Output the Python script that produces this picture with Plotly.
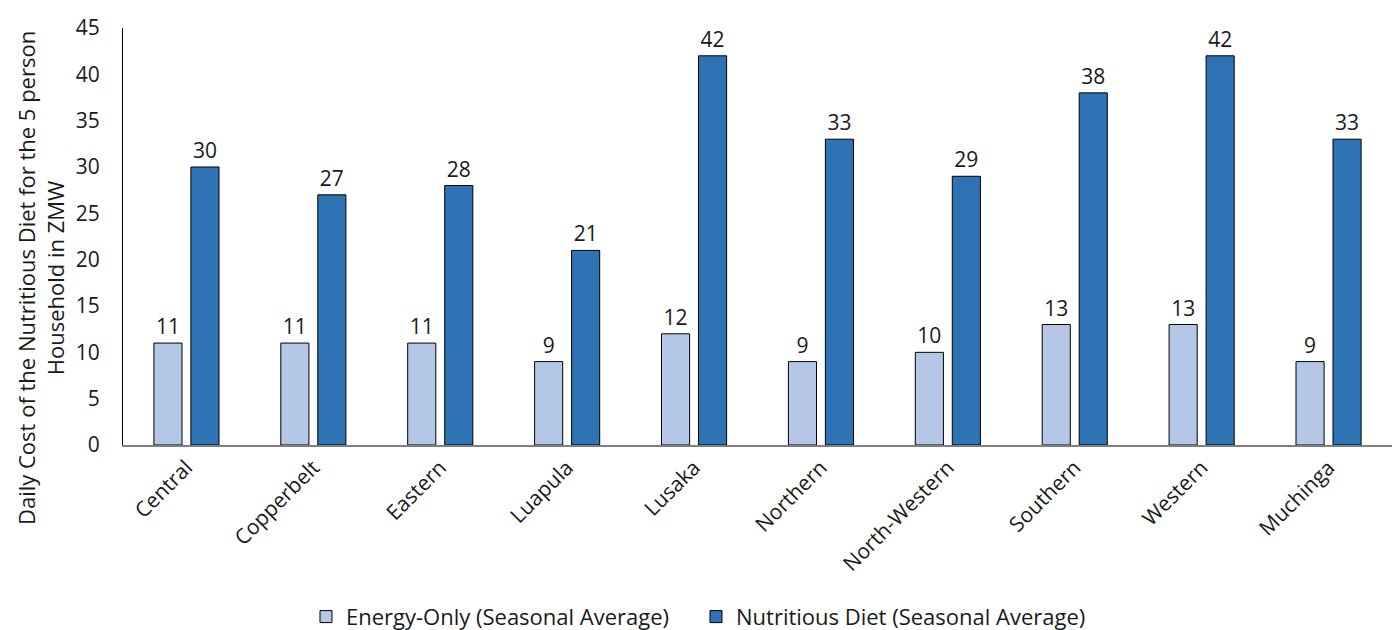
import plotly.graph_objects as go

regions = ["Central", "Copperbelt", "Eastern", "Luapula", "Lusaka", "Northern",
           "North-Western", "Southern", "Western", "Muchinga"]
energy_only = [11, 11, 11, 9, 12, 9, 10, 13, 13, 9]
nutritious = [30, 27, 28, 21, 42, 33, 29, 38, 42, 33]
y_ticks = [0, 5, 10, 15, 20, 25, 30, 35, 40, 45]
y_title = "Daily Cost of the Nutritious Diet for the 5 person<br>Household in ZMW"

font_family = "Open Sans, Noto Sans, sans-serif"
txt = "#1a1a1a"

fig = go.Figure()
fig.add_trace(go.Bar(
    x=regions, y=energy_only, name="Energy-Only (Seasonal Average)",
    marker=dict(color="#b4c7e7", line=dict(color="#000000", width=1)),
    text=energy_only, textposition="outside", cliponaxis=False,
    textfont=dict(size=21, color=txt, family=font_family),
))
fig.add_trace(go.Bar(
    x=regions, y=nutritious, name="Nutritious Diet (Seasonal Average)",
    marker=dict(color="#2e74b5", line=dict(color="#000000", width=1)),
    text=nutritious, textposition="outside", cliponaxis=False,
    textfont=dict(size=21, color=txt, family=font_family),
))

fig.update_layout(
    width=1392, height=630,
    margin=dict(l=123, r=0, t=28, b=185, autoexpand=False),
    paper_bgcolor="white", plot_bgcolor="white",
    font=dict(family=font_family, size=21, color=txt),
    barmode="group", bargap=0.417, bargroupgap=0.24,
    showlegend=True,
    legend=dict(orientation="h", x=0.1442, xanchor="left", y=-0.412, yanchor="middle",
                font=dict(size=22, color=txt), traceorder="normal",
                itemwidth=30, entrywidth=345, entrywidthmode="pixels"),
    annotations=[dict(
        text=y_title, textangle=-90, xref="paper", yref="paper",
        x=-0.0646, y=0.4005, xanchor="center", yanchor="middle",
        showarrow=False, align="center", font=dict(size=22, color=txt),
    )],
)
fig.update_xaxes(
    type="category", tickangle=-45, showline=True, linecolor="#7f7f7f", linewidth=2,
    ticks="", tickfont=dict(size=21, color=txt), showgrid=False, automargin=False,
)
fig.update_yaxes(
    range=[0, 45], tickvals=y_ticks, showline=True, linecolor="#000000", linewidth=1,
    showgrid=False, zeroline=False, ticks="", tickfont=dict(size=21, color=txt),
    automargin=False, ticklabelstandoff=18,
)

fig.write_html("out.html", config={"displayModeBar": False},
               post_script="document.body.style.margin='0';document.body.style.padding='0';")
